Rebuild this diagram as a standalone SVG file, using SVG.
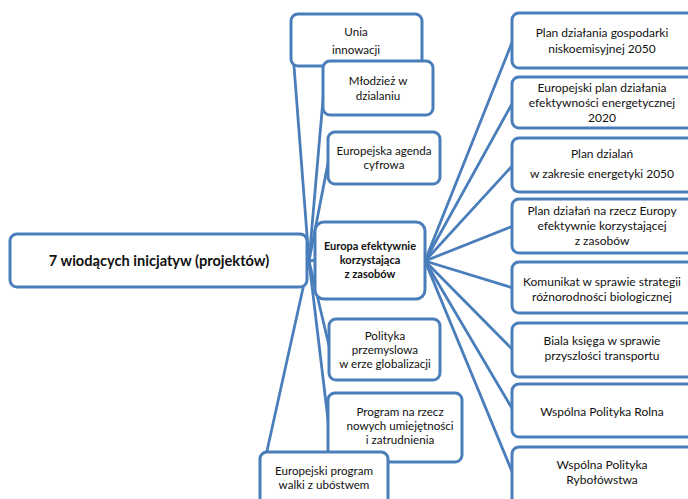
<svg xmlns="http://www.w3.org/2000/svg" width="688" height="499" viewBox="0 0 688 499">
<style>
.box{fill:#ffffff;stroke:#4a7ebb;stroke-width:3}
.ln{fill:none;stroke:#4a7ebb;stroke-width:2.8;stroke-linecap:round}
text{font-family:Lato,"Open Sans","Liberation Sans",sans-serif;fill:#111111;text-anchor:middle}
.s{font-size:11.6px}
.r{font-size:12px}
.b{font-weight:bold;font-size:11px}
</style>
<rect width="688" height="499" fill="#ffffff"/>
<g id="connectors">
<line class="ln" x1="309" y1="261" x2="292" y2="40"/>
<line class="ln" x1="309" y1="261" x2="324" y2="88"/>
<line class="ln" x1="309" y1="261" x2="329" y2="158"/>
<line class="ln" x1="309" y1="261" x2="316" y2="260"/>
<line class="ln" x1="309" y1="261" x2="330" y2="350"/>
<line class="ln" x1="309" y1="261" x2="329" y2="428"/>
<line class="ln" x1="309" y1="261" x2="261" y2="478"/>
<line class="ln" x1="425" y1="261" x2="513" y2="40"/>
<line class="ln" x1="425" y1="261" x2="513" y2="102"/>
<line class="ln" x1="425" y1="261" x2="513" y2="165"/>
<line class="ln" x1="425" y1="261" x2="513" y2="226"/>
<line class="ln" x1="425" y1="261" x2="513" y2="288"/>
<line class="ln" x1="425" y1="261" x2="513" y2="350"/>
<line class="ln" x1="425" y1="261" x2="513" y2="410"/>
<line class="ln" x1="425" y1="261" x2="513" y2="474"/>
</g>
<g id="main">
<rect class="box" x="10" y="234" width="297" height="53" rx="7"/>
<text x="159" y="266" font-size="14.6" font-weight="bold">7 wiodących inicjatyw (projektów)</text>
</g>
<g id="unia">
<rect class="box" x="291" y="14" width="131" height="52" rx="7"/>
<text class="s" x="356" y="36">Unia</text>
<text class="s" x="356" y="54">innowacji</text>
</g>
<g id="mlodziez">
<rect class="box" x="323" y="61" width="110" height="54" rx="7"/>
<text class="s" x="378" y="85">Młodzież w</text>
<text class="s" x="378" y="100">dzialaniu</text>
</g>
<g id="agenda">
<rect class="box" x="328" y="132" width="112" height="52" rx="7"/>
<text class="s" x="384" y="155">Europejska  agenda</text>
<text class="s" x="384" y="169">cyfrowa</text>
</g>
<g id="europa">
<rect class="box" x="315" y="222" width="110" height="77" rx="9"/>
<text class="b" x="370" y="250">Europa efektywnie</text>
<text class="b" x="370" y="264">korzystająca</text>
<text class="b" x="370" y="278">z zasobów</text>
</g>
<g id="polityka">
<rect class="box" x="329" y="319" width="111" height="61" rx="7"/>
<text class="s" x="385" y="340">Polityka</text>
<text class="s" x="385" y="354">przemyslowa</text>
<text class="s" x="385" y="368">w erze globalizacji</text>
</g>
<g id="program">
<rect class="box" x="328" y="393" width="134" height="69" rx="7"/>
<text class="s" x="400" y="416">Program na rzecz</text>
<text class="s" x="400" y="430">nowych umiejętności</text>
<text class="s" x="400" y="444">i zatrudnienia</text>
</g>
<g id="walki">
<rect class="box" x="260" y="452" width="128" height="56" rx="7"/>
<text class="s" x="324" y="475">Europejski program</text>
<text class="s" x="324" y="489">walki z ubóstwem</text>
</g>
<g id="r1">
<rect class="box" x="512" y="13" width="182" height="55" rx="7"/>
<text class="r" x="602" y="37">Plan działania gospodarki</text>
<text class="r" x="602" y="53">niskoemisyjnej 2050</text>
</g>
<g id="r2">
<rect class="box" x="512" y="77" width="182" height="51" rx="7"/>
<text class="r" x="602" y="92">Europejski plan działania</text>
<text class="r" x="602" y="107">efektywności energetycznej</text>
<text class="r" x="602" y="122">2020</text>
</g>
<g id="r3">
<rect class="box" x="512" y="138" width="182" height="54" rx="7"/>
<text class="r" x="602" y="158">Plan dzialań</text>
<text class="r" x="602" y="178">w zakresie energetyki 2050</text>
</g>
<g id="r4">
<rect class="box" x="512" y="199" width="182" height="54" rx="7"/>
<text class="r" x="602" y="215">Plan działań na rzecz Europy</text>
<text class="r" x="602" y="230">efektywnie korzystającej</text>
<text class="r" x="602" y="245">z zasobów</text>
</g>
<g id="r5">
<rect class="box" x="512" y="262" width="182" height="51" rx="7"/>
<text class="r" x="602" y="286">Komunikat w sprawie strategii</text>
<text class="r" x="602" y="301">różnorodności biologicznej</text>
</g>
<g id="r6">
<rect class="box" x="512" y="323" width="182" height="54" rx="7"/>
<text class="r" x="602" y="345">Biala księga  w sprawie</text>
<text class="r" x="602" y="360">przyszlości transportu</text>
</g>
<g id="r7">
<rect class="box" x="512" y="384" width="182" height="53" rx="7"/>
<text class="r" x="602" y="416">Wspólna Polityka Rolna</text>
</g>
<g id="r8">
<rect class="box" x="512" y="447" width="182" height="60" rx="7"/>
<text class="r" x="602" y="469">Wspólna Polityka</text>
<text class="r" x="602" y="484">Rybołówstwa</text>
</g>
</svg>
